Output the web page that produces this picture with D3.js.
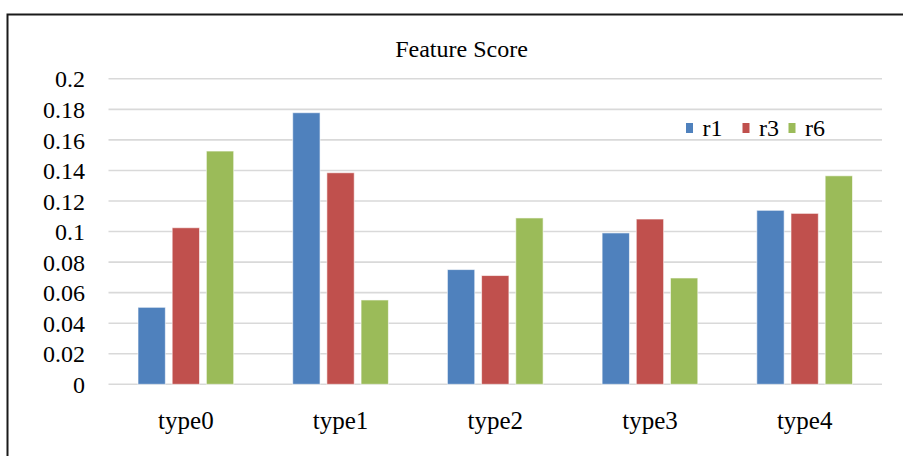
<!DOCTYPE html>
<html>
<head>
<meta charset="utf-8">
<script src="https://cdn.jsdelivr.net/npm/d3@7"></script>
<style>
  html, body { margin: 0; padding: 0; background: #fff; }
  svg { display: block; }
  text { font-family: "Liberation Serif", "Times New Roman", serif; fill: #000; }
</style>
</head>
<body>
<svg id="chart" width="903" height="456"></svg>
<script>
// Feature scores per type for each r setting
const categories = ["type0", "type1", "type2", "type3", "type4"];
const seriesNames = ["r1", "r3", "r6"];
const r1 = [0.0504, 0.1778, 0.0751, 0.0991, 0.1139];
const r3 = [0.1025, 0.1385, 0.0712, 0.1082, 0.1119];
const r6 = [0.1527, 0.0552, 0.1089, 0.0696, 0.1365];
const yTicks = [0, 0.02, 0.04, 0.06, 0.08, 0.1, 0.12, 0.14, 0.16, 0.18, 0.2];
const yTickLabels = ["0", "0.02", "0.04", "0.06", "0.08", "0.1", "0.12", "0.14", "0.16", "0.18", "0.2"];
const colors = ["#4F81BD", "#C0504D", "#9BBB59"];

const seriesValues = [r1, r3, r6];

const svg = d3.select("#chart");
const W = 903, H = 456;
const plot = { left: 108.5, right: 882, top: 78.8, bottom: 384.3 };
const fontSize = 24;

// Outer frame (extends past the visible area on the right and bottom)
svg.append("rect")
  .attr("x", 7.5).attr("y", 14.5)
  .attr("width", W + 20).attr("height", H + 20)
  .attr("fill", "#fff")
  .attr("stroke", "#1a1a1a").attr("stroke-width", 2);

const y = d3.scaleLinear().domain([0, 0.2]).range([plot.bottom, plot.top]);
const x0 = d3.scaleBand().domain(categories).range([plot.left, plot.right]).padding(0);
const groupPad = 29.5;
const x1 = d3.scaleBand().domain(seriesNames)
  .range([groupPad, x0.bandwidth() - groupPad])
  .paddingInner(0.2).paddingOuter(0);

// Horizontal gridlines
svg.append("g")
  .selectAll("line")
  .data(yTicks)
  .join("line")
  .attr("x1", plot.left).attr("x2", plot.right)
  .attr("y1", d => y(d)).attr("y2", d => y(d))
  .attr("stroke", "#d9d9d9").attr("stroke-width", 1.6);

// Y axis labels
const yAxis = d3.axisLeft(y)
  .tickValues(yTicks)
  .tickFormat((d, i) => yTickLabels[i])
  .tickSize(0)
  .tickPadding(0);
const yG = svg.append("g").attr("transform", "translate(85,0)").call(yAxis);
yG.select(".domain").remove();
yG.selectAll("text")
  .attr("font-size", fontSize)
  .attr("fill", "#000")
  .attr("dy", "0.34em");

// Bars
const groups = svg.append("g")
  .selectAll("g")
  .data(categories)
  .join("g")
  .attr("transform", d => `translate(${x0(d)},0)`);

groups.selectAll("rect")
  .data((c, ci) => seriesNames.map((s, si) => ({ s, si, v: seriesValues[si][ci] })))
  .join("rect")
  .attr("x", d => x1(d.s))
  .attr("width", x1.bandwidth())
  .attr("y", d => y(d.v))
  .attr("height", d => y(0) - y(d.v))
  .attr("fill", d => colors[d.si])
  .attr("stroke", "#ffffff").attr("stroke-opacity", 0.6).attr("stroke-width", 1);

// X axis labels
const xAxis = d3.axisBottom(x0).tickSize(0).tickPadding(0);
const xG = svg.append("g").attr("transform", "translate(0,411)").call(xAxis);
xG.select(".domain").remove();
xG.selectAll("text")
  .attr("font-size", 25)
  .attr("fill", "#000");

// Title
svg.append("text")
  .attr("x", 461.5).attr("y", 57)
  .attr("text-anchor", "middle")
  .attr("font-size", fontSize)
  .text("Feature Score");

// Legend
const legendX = [686, 742.5, 788.5];
const legend = svg.append("g")
  .selectAll("g")
  .data(seriesNames)
  .join("g")
  .attr("transform", (d, i) => `translate(${legendX[i]},0)`);
legend.append("rect")
  .attr("x", 0).attr("y", 123)
  .attr("width", 7).attr("height", 10)
  .attr("fill", (d, i) => colors[i]);
legend.append("text")
  .attr("x", 16.5).attr("y", 136)
  .attr("font-size", fontSize)
  .text(d => d);
</script>
</body>
</html>
